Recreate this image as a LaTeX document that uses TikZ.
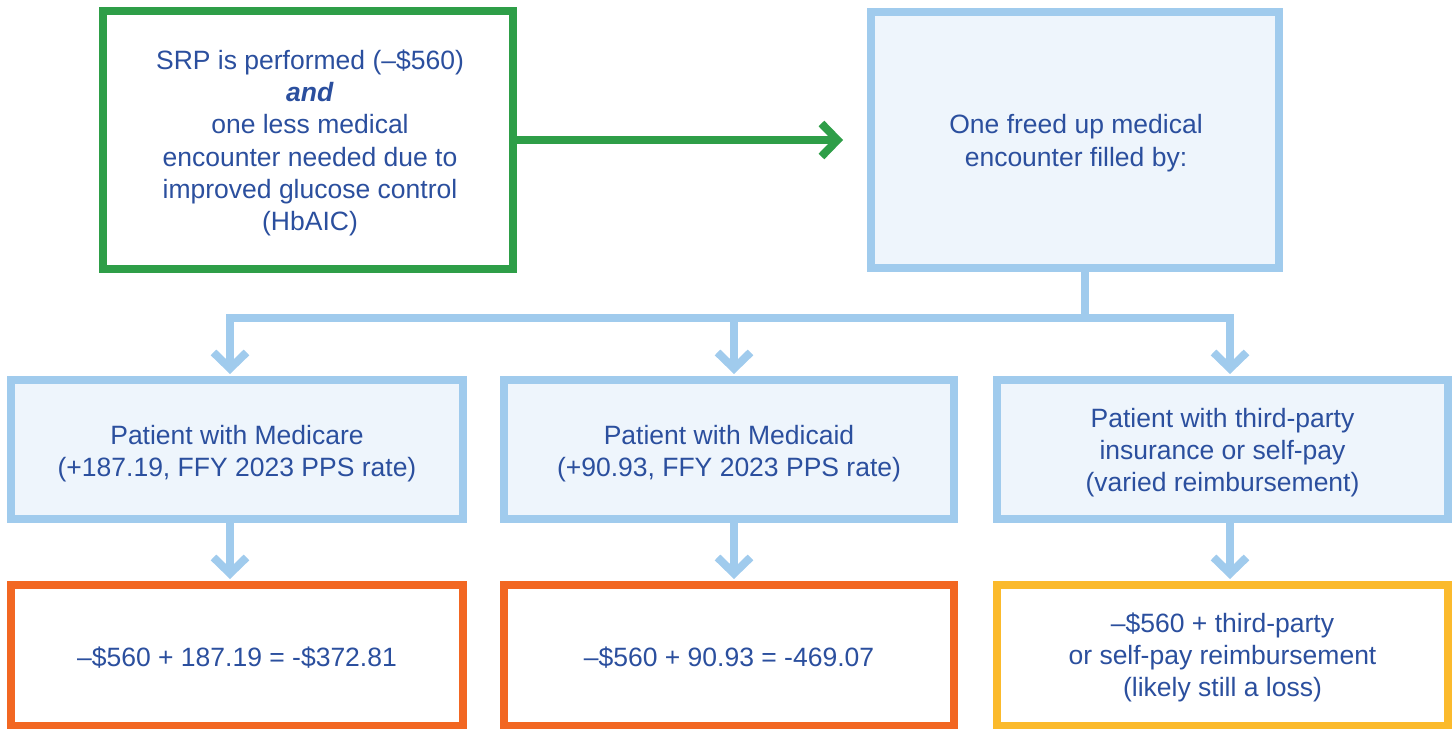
\documentclass[tikz,border=0pt]{standalone}
\usepackage{fontspec}
\setmainfont{Liberation Sans}
\usetikzlibrary{arrows.meta}
\definecolor{txtblue}{HTML}{2B4F9E}
\definecolor{grn}{HTML}{2E9E48}
\definecolor{lblue}{HTML}{A0CBED}
\definecolor{fillblue}{HTML}{EEF5FC}
\definecolor{orng}{HTML}{F26722}
\definecolor{yell}{HTML}{FBBA2C}
\tikzset{
  box/.style={draw, line width=8pt, inner sep=0pt},
  greenbox/.style={box, draw=grn, fill=white},
  bluebox/.style={box, draw=lblue, fill=fillblue},
  orangebox/.style={box, draw=orng, fill=white},
  yellowbox/.style={box, draw=yell, fill=white},
  boxtext/.style={align=center, text=txtblue, inner sep=0pt,
    font=\fontsize{26.5}{32.3}\selectfont},
  bluearrow/.style={draw=lblue, line width=8pt, -{Straight Barb[length=16pt,width=33pt]}},
  greenarrow/.style={draw=grn, line width=8pt, -{Straight Barb[length=16pt,width=33pt]}},
  blueline/.style={draw=lblue, line width=8pt}
}
\begin{document}
\begin{tikzpicture}[x=1pt,y=-1pt]
\useasboundingbox (0,0) rectangle (1455,728);
% top row
\node[greenbox, minimum width=410pt, minimum height=258pt] (g) at (308,140) {};
\node[boxtext] (gt) at ([xshift=2pt,yshift=-3pt]g.center)
  {SRP is performed (–\$560)\\ \textbf{\textit{and}}\\ one less medical\\ encounter needed due to\\ improved glucose control\\ (HbAIC)};
\node[bluebox, minimum width=408pt, minimum height=256pt] (tr) at (1075,140) {};
\node[boxtext] (trt) at ([xshift=1pt,yshift=-3pt]tr.center)
  {One freed up medical\\ encounter filled by:};
% middle row
\node[bluebox, minimum width=452pt, minimum height=139pt] (m1) at (237,449.5) {};
\node[boxtext] (m1t) at ([yshift=-4pt]m1.center)
  {Patient with Medicare\\ (+187.19, FFY 2023 PPS rate)};
\node[bluebox, minimum width=450pt, minimum height=139pt] (m2) at (729,449.5) {};
\node[boxtext] (m2t) at ([yshift=-4pt]m2.center)
  {Patient with Medicaid\\ (+90.93, FFY 2023 PPS rate)};
\node[bluebox, minimum width=451pt, minimum height=139pt] (m3) at (1222.5,449.5) {};
\node[boxtext] (m3t) at ([yshift=-3pt]m3.center)
  {Patient with third-party\\ insurance or self-pay\\ (varied reimbursement)};
% bottom row
\node[orangebox, minimum width=452pt, minimum height=141pt] (b1) at (237,655.5) {};
\node[boxtext] (b1t) at ([yshift=-2pt]b1.center) {–\$560 + 187.19 = -\$372.81};
\node[orangebox, minimum width=450pt, minimum height=141pt] (b2) at (729,655.5) {};
\node[boxtext] (b2t) at ([yshift=-2pt]b2.center) {–\$560 + 90.93 = -469.07};
\node[yellowbox, minimum width=451pt, minimum height=141pt] (b3) at (1222.5,655.5) {};
\node[boxtext] (b3t) at ([yshift=-2pt]b3.center)
  {–\$560 + third-party\\ or self-pay reimbursement\\ (likely still a loss)};
% connectors
\draw[greenarrow, shorten >=24pt] (g.east) -- (tr.west);
\coordinate (stem) at (1085,318);
\coordinate (a1) at (230,318);
\coordinate (a2) at (734,318);
\coordinate (a3) at (1230,318);
\draw[blueline] (tr.south -| stem) -- (stem);
\draw[blueline, line cap=rect] (a1) -- (a3);
\draw[bluearrow, shorten >=2pt] (a1) -- (m1.north -| a1);
\draw[bluearrow, shorten >=2pt] (a2) -- (m2.north -| a2);
\draw[bluearrow, shorten >=2pt] (a3) -- (m3.north -| a3);
\draw[bluearrow, shorten >=2pt] (m1.south -| a1) -- (b1.north -| a1);
\draw[bluearrow, shorten >=2pt] (m2.south -| a2) -- (b2.north -| a2);
\draw[bluearrow, shorten >=2pt] (m3.south -| a3) -- (b3.north -| a3);
\end{tikzpicture}
\end{document}
